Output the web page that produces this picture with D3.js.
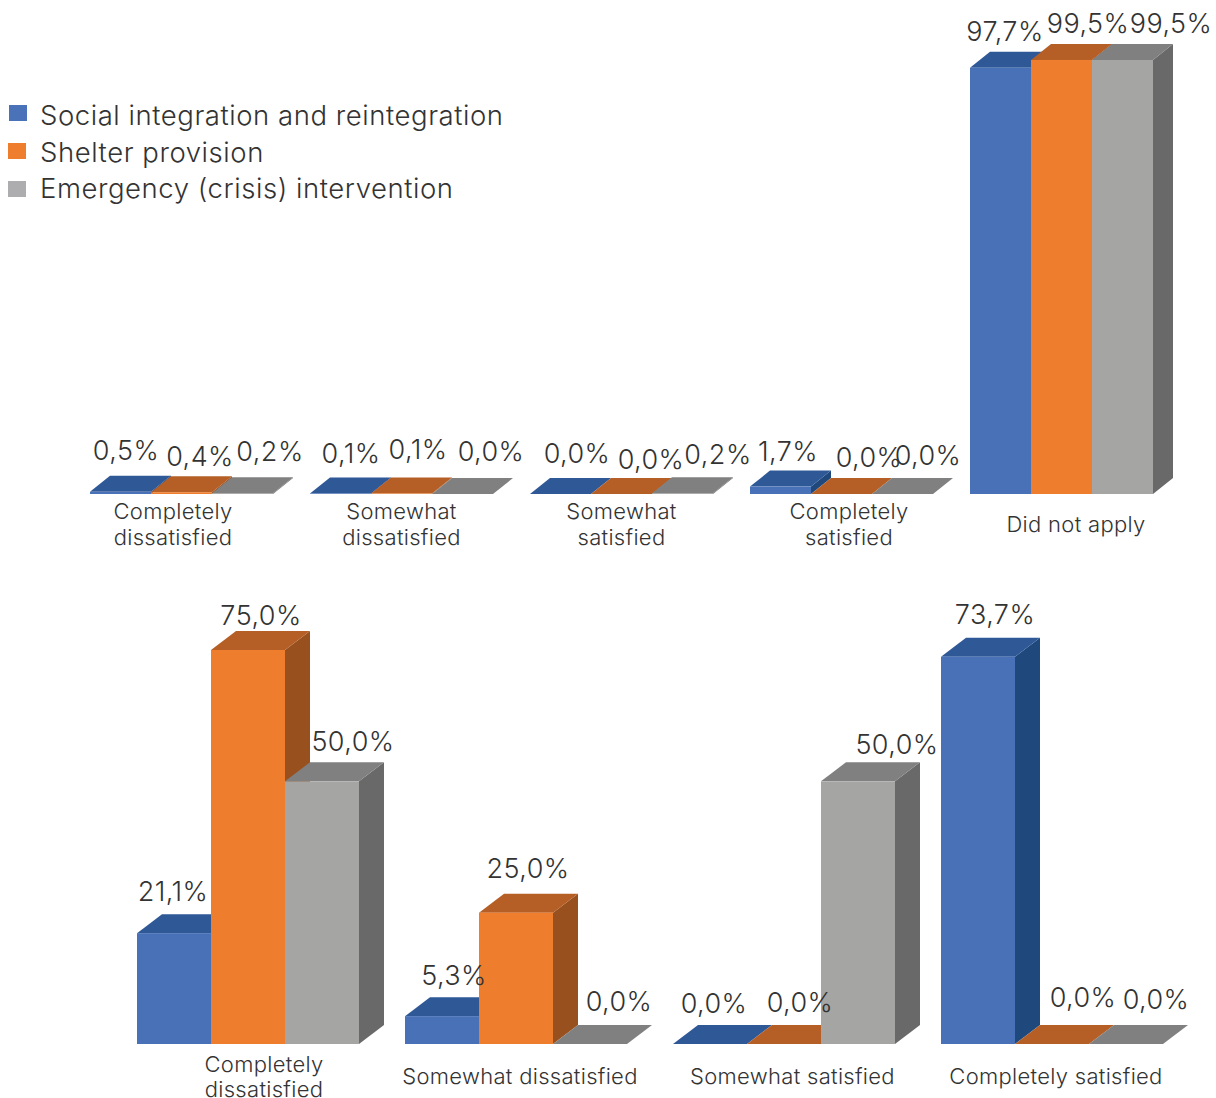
<!DOCTYPE html>
<html><head><meta charset="utf-8">
<script src="https://cdn.jsdelivr.net/npm/d3@7"></script>
<style>html,body{margin:0;padding:0;background:#fff}svg{display:block}text{font-family:Inter,"Open Sans",sans-serif;font-weight:300;fill:#333}</style>
</head><body><svg id="c" width="1216" height="1098"></svg>
<script>
const seriesNames = ["Social integration and reintegration","Shelter provision","Emergency (crisis) intervention"];
const topCategories = [["Completely","dissatisfied"],["Somewhat","dissatisfied"],["Somewhat","satisfied"],["Completely","satisfied"],["Did not apply"]];
const topSocial = [0.5,0.1,0.0,1.7,97.7];
const topShelter = [0.4,0.1,0.0,0.0,99.5];
const topEmergency = [0.2,0.0,0.2,0.0,99.5];
const bottomCategories = [["Completely","dissatisfied"],["Somewhat dissatisfied"],["Somewhat satisfied"],["Completely satisfied"]];
const bottomSocial = [21.1,5.3,0.0,73.7];
const bottomShelter = [75.0,25.0,0.0,0.0];
const bottomEmergency = [50.0,0.0,50.0,0.0];

const palette = [
 {front:"#4871B8",top:"#2F5897",side:"#1F497D"},
 {front:"#EF7D2E",top:"#B55F26",side:"#98501F"},
 {front:"#A5A5A4",top:"#808080",side:"#696969"}];
const legendBox = ["#4A72B8","#EF7D2E","#ADADAF"];
const legendLayout = [[9,105,125],[8,143,162],[8,181,198]];

const topLayout = {
 categories:topCategories, series:[topSocial,topShelter,topEmergency],
 x:[90,1153], y:[494,57.8], domain:[0,100], pad:37/220, dx:20, dy:16, lineGap:26,
 catNudge:[-8.5,0,0,7.5,14.5], catBase:[519,519,519,519,532],
 nudge:[[[5.5,-32],[18.5,-26],[27.5,-32]],[[10.5,-31],[16.5,-35],[28.5,-33]],[[16.5,-31],[29.5,-25],[35.5,-29]],[[7.5,-25.6],[27.5,-27],[25.5,-29]],[[4.5,-27],[26.5,-27],[48.5,-27]]]
};
const bottomLayout = {
 categories:bottomCategories, series:[bottomSocial,bottomShelter,bottomEmergency],
 x:[137,1163], y:[1044,650], domain:[0,75], pad:46/268, dx:25, dy:19, lineGap:25,
 catNudge:[16,4,8.5,4], catBase:[1071.5,1084,1084,1084],
 nudge:[[[-1,-32],[13,-25],[31,-30]],[[12,-31],[12,-35],[29,-33]],[[4,-31],[16,-32],[39,-27]],[[17,-33],[31,-37],[30,-35]]]
};
const valueFont = 27, catFont = 22, legendFont = 27.5;
const fmt = v => v.toFixed(1).replace(".",",")+"%";
const svg = d3.select("#c");

function chart(L){
  const labels = L.categories.map((c,i)=>i);
  const x0 = d3.scaleBand().domain(labels).range(L.x).paddingInner(L.pad).paddingOuter(0);
  const x1 = d3.scaleBand().domain([0,1,2]).range([0,x0.bandwidth()]);
  const y = d3.scaleLinear().domain(L.domain).range(L.y);
  const base = y(0);
  const marks = svg.append("g"), texts = svg.append("g");
  labels.forEach(i=>{
    L.series.forEach((vals,s)=>{
      const v = vals[i], xl = x0(i)+x1(s), w = x1.bandwidth(), yt = y(v);
      const g = marks.append("g");
      const c = palette[s];
      g.append("path").attr("fill",c.side)
        .attr("d",d3.line()([[xl+w,yt],[xl+w+L.dx,yt-L.dy],[xl+w+L.dx,base-L.dy],[xl+w,base]])+"Z");
      g.append("path").attr("fill",c.top)
        .attr("d",d3.line()([[xl,yt],[xl+L.dx,yt-L.dy],[xl+w+L.dx,yt-L.dy],[xl+w,yt]])+"Z");
      g.append("rect").attr("x",xl).attr("y",yt).attr("width",w).attr("height",Math.max(base-yt,0)).attr("fill",c.front);
      const n = L.nudge[i][s];
      texts.append("text").attr("x",xl+w/2+n[0]).attr("y",yt+n[1]).attr("text-anchor","middle")
        .attr("font-size",valueFont).attr("letter-spacing",0.45).text(fmt(v));
    });
    const cx = x0(i)+x0.bandwidth()/2+L.catNudge[i];
    L.categories[i].forEach((line,k)=>{
      texts.append("text").attr("x",cx).attr("y",L.catBase[i]+k*L.lineGap).attr("text-anchor","middle")
        .attr("font-size",catFont).attr("letter-spacing",0.3).text(line);
    });
  });
}
chart(topLayout);
chart(bottomLayout);
seriesNames.forEach((name,i)=>{
  const p = legendLayout[i];
  svg.append("rect").attr("x",p[0]).attr("y",p[1]).attr("width",18).attr("height",16).attr("fill",legendBox[i]);
  svg.append("text").attr("x",40).attr("y",p[2]).attr("font-size",legendFont).attr("letter-spacing",0.55).text(name);
});
</script></body></html>
